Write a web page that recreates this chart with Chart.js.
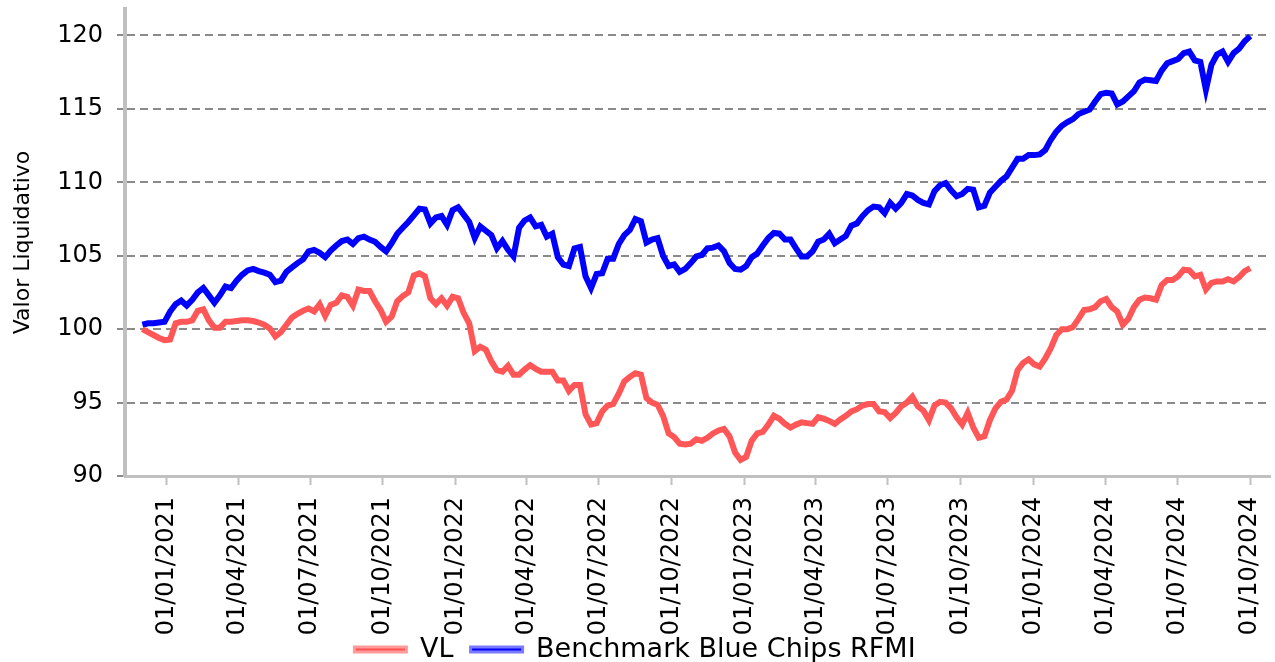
<!DOCTYPE html>
<html>
<head>
<meta charset="utf-8">
<script src="https://cdn.jsdelivr.net/npm/chart.js@4.4.1/dist/chart.umd.min.js"></script>
<style>
  html, body { margin: 0; padding: 0; background: #fff; }
  #wrap { width: 1275px; height: 662px; position: relative; }
</style>
</head>
<body>
<div id="wrap"><canvas id="grafico"></canvas></div>
<script>
// weekly readings, first one on 01/12/2020
const fechaInicio = Date.UTC(2020, 11, 1);
const semana = 7 * 86400000;

const vl = [
  100.0, 99.8, 99.6, 99.4, 99.25, 99.3, 100.4, 100.5, 100.5, 100.6,
  101.25, 101.35, 100.6, 100.1, 100.1, 100.5, 100.5, 100.55, 100.6, 100.6,
  100.55, 100.45, 100.3, 100.05, 99.5, 99.8, 100.3, 100.8, 101.05, 101.25,
  101.4, 101.2, 101.7, 100.9, 101.65, 101.8, 102.3, 102.2, 101.6, 102.7,
  102.6, 102.6, 101.9, 101.3, 100.5, 100.85, 101.9, 102.25, 102.5, 103.65,
  103.8, 103.6, 102.1, 101.7, 102.1, 101.6, 102.2, 102.1, 101.1, 100.4,
  98.5, 98.8, 98.6, 97.8, 97.2, 97.1, 97.5, 96.9, 96.9, 97.25,
  97.55, 97.3, 97.1, 97.1, 97.1, 96.5, 96.5, 95.8, 96.2,
  96.2, 94.2, 93.5, 93.6, 94.4, 94.8, 94.9, 95.6, 96.45, 96.75,
  97.0, 96.9, 95.3, 95.0, 94.85, 94.1, 92.9, 92.65, 92.2, 92.15,
  92.2, 92.5, 92.4, 92.6, 92.9, 93.1, 93.2, 92.7, 91.6, 91.1,
  91.3, 92.4, 92.9, 93.0, 93.5, 94.1, 93.9, 93.55, 93.3, 93.5,
  93.65, 93.6, 93.55, 94.0, 93.9, 93.75, 93.55, 93.85, 94.1, 94.4,
  94.55, 94.8, 94.9, 94.9, 94.4, 94.35, 93.95, 94.3, 94.75, 95.0,
  95.4, 94.75, 94.45, 93.8, 94.8, 95.05, 95.0, 94.6, 94.0, 93.5,
  94.3, 93.3, 92.6, 92.7, 93.8, 94.6, 95.05, 95.2, 95.8, 97.2,
  97.7, 97.95, 97.6, 97.45, 98.0, 98.7, 99.6, 100.0, 100.0, 100.15,
  100.7, 101.3, 101.35, 101.5, 101.9, 102.05, 101.5, 101.2, 100.3, 100.7,
  101.5, 102.0, 102.15, 102.1, 102.0, 103.0, 103.35, 103.35, 103.6, 104.05,
  104.0, 103.6, 103.7, 102.7, 103.15, 103.25, 103.25, 103.4, 103.25, 103.55, 103.95, 104.15
];

const benchmark = [
  100.3, 100.4, 100.4, 100.45, 100.5, 101.2, 101.7, 101.95, 101.6, 102.0,
  102.5, 102.8, 102.3, 101.8, 102.3, 102.9, 102.8, 103.3, 103.7, 104.0,
  104.1, 103.95, 103.85, 103.7, 103.2, 103.3, 103.9, 104.2, 104.5, 104.75,
  105.3, 105.4, 105.2, 104.9, 105.35, 105.7, 106.0, 106.1, 105.8, 106.2,
  106.3, 106.1, 105.95, 105.6, 105.3, 105.85, 106.5, 106.9, 107.3, 107.75,
  108.2, 108.15, 107.2, 107.6, 107.7, 107.1, 108.1, 108.3, 107.8, 107.3,
  106.2, 107.0, 106.7, 106.4, 105.5, 106.0, 105.4, 104.95, 106.9, 107.4,
  107.6, 107.0, 107.1, 106.3, 106.5, 104.9, 104.4, 104.3, 105.5,
  105.6, 103.6, 102.8, 103.75, 103.8, 104.8, 104.8, 105.8, 106.4, 106.75,
  107.5, 107.35, 105.9, 106.1, 106.2, 105.0, 104.3, 104.4, 103.9, 104.1,
  104.5, 104.95, 105.05, 105.5, 105.55, 105.7, 105.3, 104.5, 104.1, 104.05,
  104.3, 104.9, 105.15, 105.7, 106.2, 106.55, 106.5, 106.1, 106.1, 105.5,
  104.95, 104.95, 105.3, 105.95, 106.1, 106.5, 105.85, 106.1, 106.35, 107.05,
  107.2, 107.7, 108.1, 108.35, 108.3, 107.9, 108.6, 108.2, 108.6, 109.2,
  109.1, 108.8, 108.6, 108.5, 109.4, 109.8, 109.95, 109.45, 109.05, 109.2,
  109.55, 109.5, 108.3, 108.4, 109.3, 109.7, 110.1, 110.4, 111.0, 111.6,
  111.6, 111.85, 111.85, 111.9, 112.2, 112.9, 113.45, 113.85, 114.1, 114.3,
  114.65, 114.8, 114.95, 115.5, 116.0, 116.1, 116.05, 115.3, 115.5, 115.85,
  116.2, 116.8, 117.0, 116.95, 116.9, 117.6, 118.1, 118.25, 118.4, 118.8,
  118.9, 118.3, 118.2, 116.3, 118.0, 118.7, 118.9, 118.2, 118.8, 119.1, 119.6, 119.95
];

const etiquetasX = [
  '01/01/2021', '01/04/2021', '01/07/2021', '01/10/2021',
  '01/01/2022', '01/04/2022', '01/07/2022', '01/10/2022',
  '01/01/2023', '01/04/2023', '01/07/2023', '01/10/2023',
  '01/01/2024', '01/04/2024', '01/07/2024', '01/10/2024'
];
const ticksY = [90, 95, 100, 105, 110, 115, 120];

function aFecha(txt) {
  const p = txt.split('/');
  return Date.UTC(+p[2], +p[1] - 1, +p[0]);
}

const puntosVL = vl.map((v, i) => ({x: fechaInicio + i * semana, y: v}));
const puntosBM = benchmark.map((v, i) => ({x: fechaInicio + i * semana, y: v}));

const fuente = "'DejaVu Sans', sans-serif";

const ctx = document.getElementById('grafico');
const myChart = new Chart(ctx, {
  type: 'line',
  data: {
    datasets: [{
      label: 'VL',
      data: puntosVL,
      borderColor: '#ff5757',
      borderWidth: 6,
      pointRadius: 0,
      tension: 0
    }, {
      label: 'Benchmark Blue Chips RFMI',
      data: puntosBM,
      borderColor: '#0000ff',
      borderWidth: 6,
      pointRadius: 0,
      tension: 0
    }]
  },
  options: {
    responsive: true,
    maintainAspectRatio: false,
    animation: false,
    layout: {
      padding: {top: 9, right: 5, bottom: -11, left: 0}
    },
    plugins: {
      tooltip: {enabled: false},
      legend: {
        position: 'bottom',
        labels: {
          color: '#000',
          font: {family: fuente, size: 27},
          boxWidth: 52,
          boxHeight: 5,
          padding: 0,
          generateLabels: function(chart) {
            const claros = ['#ff9a9a', '#7a7aff'];
            const oscuros = ['#ff5050', '#0000ff'];
            return chart.data.datasets.map((ds, i) => ({
              // trailing spaces keep the gap between the two entries
              text: i === 0 ? ds.label + '  ' : ds.label,
              fillStyle: oscuros[i],
              strokeStyle: claros[i],
              lineWidth: 3,
              fontColor: '#000',
              hidden: false,
              datasetIndex: i
            }));
          }
        }
      }
    },
    scales: {
      x: {
        type: 'linear',
        min: Date.UTC(2020, 10, 9),
        max: Date.UTC(2024, 9, 26),
        afterBuildTicks: function(scale) {
          scale.ticks = etiquetasX.map(t => ({value: aFecha(t)}));
        },
        afterFit: function(scale) {
          scale.height = 160;
          scale.paddingLeft = 0;
          scale.paddingRight = 0;
        },
        ticks: {
          autoSkip: false,
          maxRotation: 90,
          minRotation: 90,
          padding: 12,
          color: '#000',
          font: {family: fuente, size: 24},
          callback: function(value, index) {
            return etiquetasX[index];
          }
        },
        grid: {
          drawOnChartArea: false,
          drawTicks: true,
          tickLength: 9,
          tickColor: '#c0c0c0',
          tickWidth: 2
        },
        border: {display: true, color: '#c0c0c0', width: 3}
      },
      y: {
        min: 90,
        max: 121.8,
        afterBuildTicks: function(scale) {
          scale.ticks = ticksY.map(v => ({value: v}));
        },
        afterFit: function(scale) {
          scale.width = 125;
          scale.paddingTop = 0;
          scale.paddingBottom = 0;
        },
        ticks: {
          padding: 14,
          color: '#000',
          font: {family: fuente, size: 24}
        },
        grid: {
          color: '#8a8a8a',
          lineWidth: 2,
          tickLength: 8
        },
        border: {display: true, color: '#c0c0c0', width: 4, dash: [8, 5]},
        title: {
          display: true,
          text: 'Valor Liquidativo',
          color: '#000',
          font: {family: fuente, size: 22},
          padding: {top: 10, bottom: 0}
        }
      }
    }
  }
});
</script>
</body>
</html>
